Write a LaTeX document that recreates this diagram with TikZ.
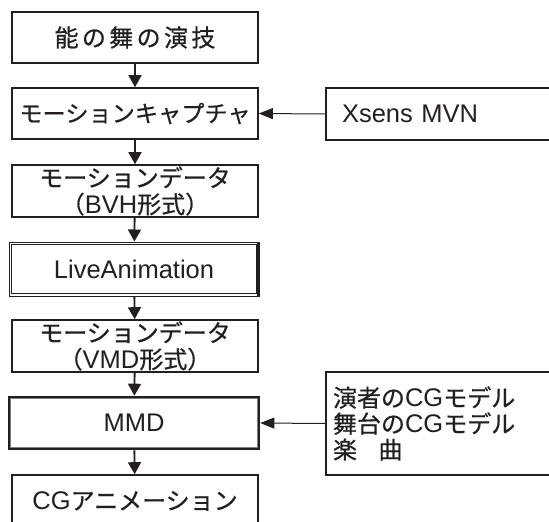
\documentclass[tikz,border=0pt]{standalone}
\usepackage{fontspec}
\setmainfont{Liberation Sans}
\newfontfamily\jp[FakeBold=0.6]{Noto Sans CJK JP}
\newfontfamily\jpw[FakeBold=0.6,LetterSpace=14]{Noto Sans CJK JP}
\usetikzlibrary{arrows.meta}
\definecolor{ink}{HTML}{231F20}
\tikzset{
  box/.style={draw=ink, line width=1.6pt, minimum width=246pt, minimum height=51pt, inner sep=0pt, text=ink, align=center, font=\fontsize{24}{24.5}\selectfont},
  latin/.style={font=\fontsize{25.5}{25}\selectfont},
  sidebox/.style={draw=ink, line width=1.6pt, minimum width=234pt, inner sep=0pt, text=ink, align=left, font=\fontsize{24}{26}\selectfont},
  flow/.style={draw=ink, line width=1.8pt, -{Triangle[width=13pt,length=12pt]}},
  feed/.style={draw=ink, line width=1pt, -{Triangle[width=11pt,length=14pt]}}
}
\begin{document}
\begin{tikzpicture}[x=1pt,y=-1pt]
\clip (0,0) rectangle (549,522);
\fill[white] (0,0) rectangle (549,522);
\node[box] (b1) at (135,37.5) {\jpw 能の舞の演技};
\node[box] (b2) at (135,113.5) {\fontsize{23.2}{24}\selectfont\jp モーションキャプチャ};
\node[box, minimum height=52pt] (b3) at (135,191) {{\jp モーションデータ}\\[2pt]{\jp （}{\fontsize{25.5}{24.5}\selectfont BVH}{\jp 形式）}};
\node[box, latin, minimum width=250pt, minimum height=54pt, line width=1pt] (b4) at (134,269) {LiveAnimation};
\draw[ink, line width=1pt] ([shift={(3,3)}]b4.north west) rectangle ([shift={(-3,-3)}]b4.south east);
\draw[ink, line width=3pt] ([shift={(-1.5,0)}]b4.north east) -- ([shift={(-1.5,0)}]b4.south east);
\node[box, minimum height=52pt] (b5) at (135,346) {{\jp モーションデータ}\\[2pt]{\jp （}{\fontsize{25.5}{24.5}\selectfont VMD}{\jp 形式）}};
\node[box, latin, minimum width=250pt, minimum height=52pt, line width=2.6pt] (b6) at (134,423) {MMD};
\draw[gray, line width=1pt] ([shift={(3,3)}]b6.north west) rectangle ([shift={(-3,-3)}]b6.south east);
\node[box, minimum height=52pt] (b7) at (135,501) {{\fontsize{25.5}{23}\selectfont CG}{\jp アニメーション}};
\node[sidebox, latin, minimum height=52pt, text width=202pt] (xs) at (443,114) {Xsens MVN};
\node[sidebox, minimum height=103pt, text width=220pt] (cg) at (443,423.5) {{\jp 演者の}{\fontsize{25.5}{26}\selectfont CG}{\jp モデル}\\{\jp 舞台の}{\fontsize{25.5}{26}\selectfont CG}{\jp モデル}\\{\jp 楽\hspace{0.9em}曲}};
\draw[flow] (b1) -- (b2);
\draw[flow] (b2) -- (b3);
\draw[flow] (b3) -- (b4);
\draw[flow] (b4) -- (b5);
\draw[flow] (b5) -- (b6);
\draw[flow] (b6) -- (b7);
\draw[feed] (xs.west) -- (b2.east);
\draw[feed] (cg.west) -- (b6.east);
\end{tikzpicture}
\end{document}
